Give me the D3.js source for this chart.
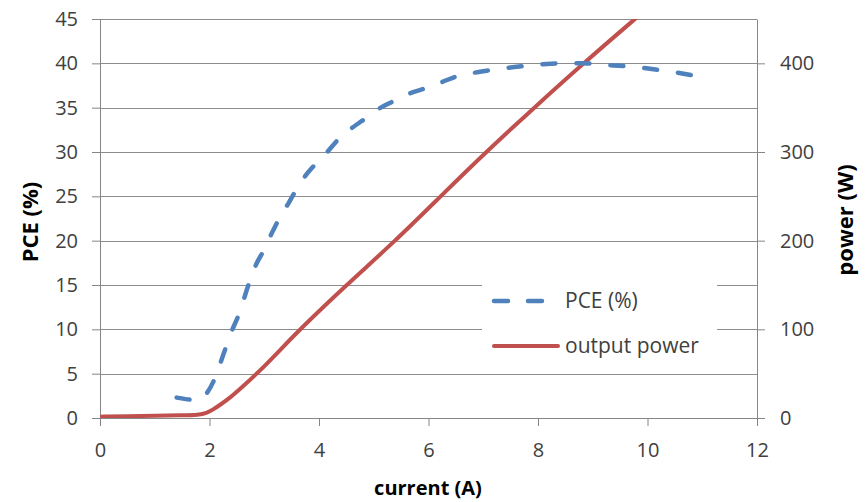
<!DOCTYPE html>
<html>
<head>
<meta charset="utf-8">
<script src="https://cdn.jsdelivr.net/npm/d3@7"></script>
<style>
  body { margin: 0; background: #fff; }
  .axis text { font-family: "Open Sans", sans-serif; font-size: 20px; fill: #404040; }
  .axis path, .axis line { stroke: #868686; }
  .grid line { stroke: #8c8c8c; stroke-width: 1; }
  .title { font-family: "Open Sans", sans-serif; font-weight: bold; fill: #000; }
  .legend text { font-family: "Open Sans", sans-serif; font-size: 21px; fill: #404040; }
</style>
</head>
<body>
<div id="chart"></div>
<script>
// PCE (%) vs current (A)
var pceCurrent = [1.4, 1.6, 1.8, 1.95, 2.1, 2.25, 2.4, 2.55, 2.7, 2.85, 3.0, 3.15, 3.3, 3.45, 3.6, 3.75, 3.9, 4.15, 4.35, 4.6, 4.85, 5.1, 5.35, 5.65, 5.95, 6.25, 6.5, 6.8, 7.1, 7.45, 7.75, 8.1, 8.4, 8.8, 9.3, 9.55, 9.9, 10.2, 10.55, 10.85];
var pceValues  = [2.3, 2.1, 2.0, 2.8, 4.5, 7.1, 9.7, 11.9, 14.8, 17.3, 19.0, 21.0, 22.8, 24.3, 25.9, 27.3, 28.4, 30.0, 31.4, 32.7, 33.8, 34.9, 35.7, 36.6, 37.2, 37.9, 38.5, 38.9, 39.2, 39.5, 39.7, 39.9, 40.0, 40.0, 39.8, 39.7, 39.5, 39.25, 38.95, 38.6];

// output power (W) vs current (A)
var powerCurrent = [0, 0.5, 1, 1.5, 1.8, 1.95, 2.05, 2.2, 2.4, 2.6, 2.9, 3.25, 3.65, 4.5, 5.4, 6.22, 7.05, 7.93, 8.83, 9.77, 10.0];
var powerValues  = [1.5, 2, 2.5, 3, 3.5, 5.5, 9, 15, 24, 35, 52, 74, 100, 150, 200, 250, 300, 350, 400, 450, 462];

var xTicks = [0, 2, 4, 6, 8, 10, 12];
var leftTicks = [0, 5, 10, 15, 20, 25, 30, 35, 40, 45];
var rightTicks = [0, 100, 200, 300, 400];

var outerWidth = 866, outerHeight = 502;
var margin = {top: 19, right: 109, bottom: 84, left: 100},
    width = outerWidth - margin.left - margin.right,
    height = outerHeight - margin.top - margin.bottom;

var svg = d3.select("#chart").append("svg")
    .attr("width", outerWidth)
    .attr("height", outerHeight)
  .append("g")
    .attr("transform", "translate(" + margin.left + "," + margin.top + ")");

var xScale = d3.scaleLinear().domain([0, 12]).range([0, width]);
var yLeft = d3.scaleLinear().domain([0, 45]).range([height, 0]);
var yRight = d3.scaleLinear().domain([0, 450]).range([height, 0]);

// gridlines
svg.append("g")
    .attr("class", "grid")
  .selectAll("line")
    .data(leftTicks.slice(1))
  .enter().append("line")
    .attr("x1", 0)
    .attr("x2", width)
    .attr("y1", d => Math.round(yLeft(d)) + 0.5)
    .attr("y2", d => Math.round(yLeft(d)) + 0.5);

// axes
svg.append("g")
    .attr("class", "axis x-axis")
    .attr("transform", "translate(0," + height + ")")
    .call(d3.axisBottom(xScale).tickValues(xTicks).tickSize(8).tickPadding(17).tickSizeOuter(0));

svg.append("g")
    .attr("class", "axis y-axis")
    .call(d3.axisLeft(yLeft).tickValues(leftTicks).tickSize(8).tickPadding(14).tickSizeOuter(0));

svg.append("g")
    .attr("class", "axis y2-axis")
    .attr("transform", "translate(" + width + ",0)")
    .call(d3.axisRight(yRight).tickValues(rightTicks).tickSize(8).tickPadding(15).tickSizeOuter(0));

svg.append("clipPath")
    .attr("id", "plot-clip")
  .append("rect")
    .attr("x", 0).attr("y", 0)
    .attr("width", width).attr("height", height);

// legend background sits over the gridlines
var legend = svg.append("g")
    .attr("class", "legend");

legend.append("rect")
    .attr("x", 382).attr("y", 240)
    .attr("width", 235).attr("height", 106)
    .attr("fill", "#fff");

var powerLine = d3.line()
    .x(function(d, i) { return xScale(powerCurrent[i]); })
    .y(function(d) { return yRight(d); })
    .curve(d3.curveBasis);

var pceLine = d3.line()
    .x(function(d, i) { return xScale(pceCurrent[i]); })
    .y(function(d) { return yLeft(d); })
    .curve(d3.curveMonotoneX);

svg.append("path")
    .datum(powerValues)
    .attr("class", "power-line")
    .attr("clip-path", "url(#plot-clip)")
    .attr("fill", "none")
    .attr("stroke", "#C0504D")
    .attr("stroke-width", 4)
    .attr("stroke-linejoin", "round")
    .attr("d", powerLine);

svg.append("path")
    .datum(pceValues)
    .attr("class", "pce-line")
    .attr("fill", "none")
    .attr("stroke", "#4F81BD")
    .attr("stroke-width", 4.5)
    .attr("stroke-linecap", "round")
    .attr("stroke-dasharray", "13,21")
    .attr("d", pceLine);

// legend entries
legend.append("line")
    .attr("x1", 394).attr("x2", 446)
    .attr("y1", 282).attr("y2", 282)
    .attr("stroke", "#4F81BD")
    .attr("stroke-width", 4.5)
    .attr("stroke-linecap", "round")
    .attr("stroke-dasharray", "14,20");

legend.append("text")
    .attr("x", 465).attr("y", 282)
    .attr("dy", "0.35em")
    .text("PCE (%)");

legend.append("line")
    .attr("x1", 394).attr("x2", 458)
    .attr("y1", 327).attr("y2", 327)
    .attr("stroke", "#C0504D")
    .attr("stroke-width", 4)
    .attr("stroke-linecap", "round");

legend.append("text")
    .attr("x", 465).attr("y", 327)
    .attr("dy", "0.35em")
    .text("output power");

// axis titles
svg.append("text")
    .attr("class", "title")
    .attr("text-anchor", "middle")
    .attr("transform", "translate(" + (30 - margin.left) + "," + (222 - margin.top) + ") rotate(-90)")
    .attr("dy", "0.35em")
    .style("font-size", "22px")
    .text("PCE (%)");

svg.append("text")
    .attr("class", "title")
    .attr("text-anchor", "middle")
    .attr("transform", "translate(" + (845 - margin.left) + "," + (220 - margin.top) + ") rotate(-90)")
    .attr("dy", "0.35em")
    .style("font-size", "22px")
    .text("power (W)");

svg.append("text")
    .attr("class", "title")
    .attr("text-anchor", "middle")
    .attr("x", 428 - margin.left)
    .attr("y", 488 - margin.top)
    .attr("dy", "0.35em")
    .style("font-size", "20px")
    .text("current (A)");
</script>
</body>
</html>
